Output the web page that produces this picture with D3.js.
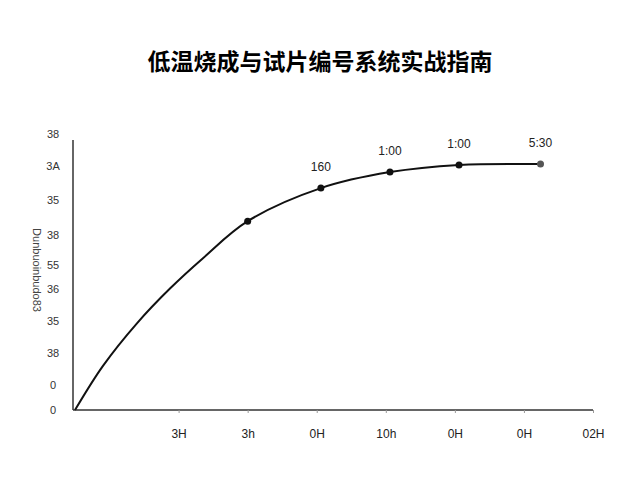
<!DOCTYPE html><html><head><meta charset="utf-8"><script src="https://cdn.jsdelivr.net/npm/d3@7"></script>
<style>body{margin:0;background:#fff}text{font-family:"Liberation Sans",Arial,sans-serif}</style></head><body>
<script>
const title="低温烧成与试片编号系统实战指南";
const xTicks=[1.5,2.5,3.5,4.5,5.5,6.5,7.5];
const xTickLabels=["3H","3h","0H","10h","0H","0H","02H"];
const yTicks=[100,88.4,76.1,63.4,52.5,43.8,32.2,20.7,9.1,0];
const yTickLabels=["38","3A","35","38","55","36","35","38","0","0"];
const curveX=[0,0.405,0.9,1.375,1.853,2.5,3.56,4.56,5.56,6.74];
const curveY=[0,16,31.5,44,55,68.4,80.4,86.2,88.8,89.1];
const marked=[false,false,false,false,false,true,true,true,true,true];
const pointLabels=["","","","","","","160","1:00","1:00","5:30"];
const yAxisTitle="Dunbuoinbudo83";

const svg=d3.select("body").append("svg").attr("width",640).attr("height",480);
const x=d3.scaleLinear().domain([0,7.5]).range([75,593]);
const y=d3.scaleLinear().domain([0,100]).range([410,134]);
svg.append("text").attr("x",320).attr("y",70).attr("text-anchor","middle").attr("font-size",23).attr("font-weight","bold").style("font-family","'Noto Sans CJK SC'").text(title);
svg.append("line").attr("x1",73).attr("x2",593).attr("y1",410).attr("y2",410).attr("stroke","#333").attr("stroke-width",1.5);
svg.append("line").attr("x1",73).attr("x2",73).attr("y1",410).attr("y2",140).attr("stroke","#333").attr("stroke-width",1.5);
const xa=svg.append("g").attr("transform","translate(0,410)").call(d3.axisBottom(x).tickValues(xTicks).tickFormat((d,i)=>xTickLabels[i]).tickSize(3));
xa.select(".domain").remove();
xa.selectAll("text").attr("font-size",12).attr("dy","1.8em").attr("fill","#222");
xa.selectAll("line").attr("stroke","#999");
const ya=svg.append("g").attr("transform","translate(60,0)").call(d3.axisLeft(y).tickValues(yTicks).tickFormat((d,i)=>yTickLabels[i]).tickSize(0));
ya.select(".domain").remove();
ya.selectAll("text").attr("font-size",11).attr("fill","#333").attr("text-anchor","middle").attr("dx",-4);
svg.append("text").attr("transform","translate(33,270) rotate(90)").attr("text-anchor","middle").attr("font-size",11).attr("fill","#444").text(yAxisTitle);
const pts=curveX.map((v,i)=>({x:v,y:curveY[i],m:marked[i],l:pointLabels[i]}));
svg.append("path").datum(pts).attr("fill","none").attr("stroke","#111").attr("stroke-width",2)
 .attr("d",d3.line().x(d=>x(d.x)).y(d=>y(d.y)).curve(d3.curveCatmullRom.alpha(0.5)));
svg.selectAll("circle").data(pts.filter(d=>d.m)).join("circle").attr("cx",d=>x(d.x)).attr("cy",d=>y(d.y)).attr("r",3.5).attr("fill",(d,i,a)=>i==a.length-1?"#555":"#111");
svg.selectAll(".pl").data(pts.filter(d=>d.l)).join("text").attr("x",d=>x(d.x)).attr("y",d=>y(d.y)-17).attr("text-anchor","middle").attr("font-size",12).attr("fill","#222").text(d=>d.l);
</script></body></html>
